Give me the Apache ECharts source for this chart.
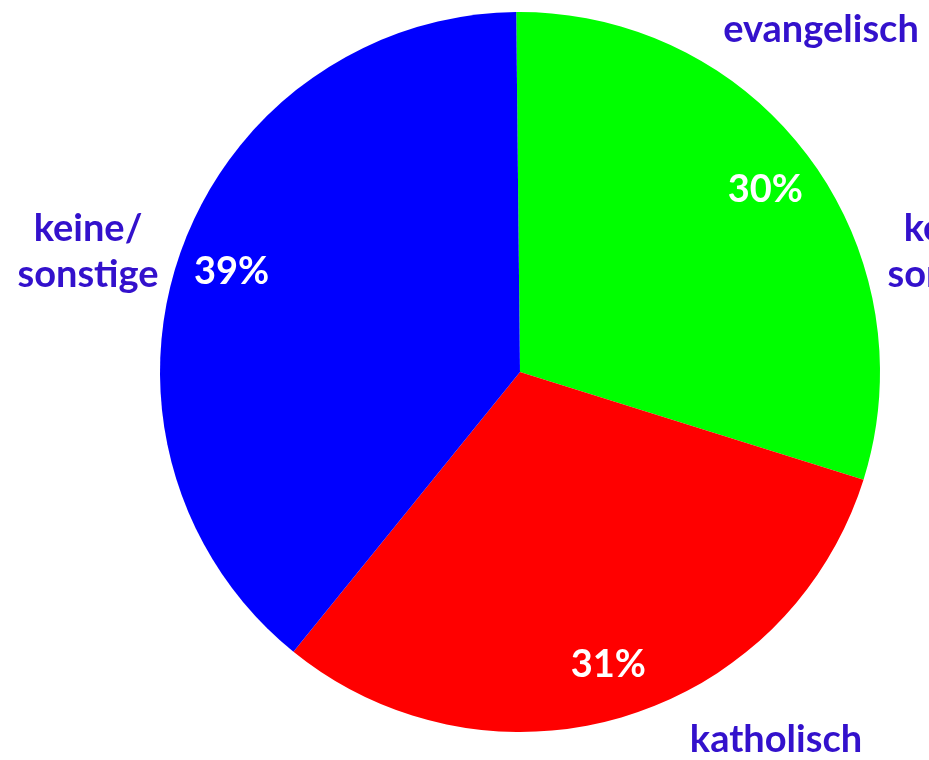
<!DOCTYPE html>
<html>
<head>
<meta charset="utf-8">
<script src="https://cdn.jsdelivr.net/npm/echarts@6/dist/echarts.min.js"></script>
<style>
  html, body { margin: 0; padding: 0; background: #fff; }
  #chart { width: 929px; height: 760px; }
</style>
</head>
<body>
<div id="chart"></div>
<script>
var categories = ['evangelisch', 'katholisch', 'keine/\nsons\u200Ctige'];
var values = [30, 31, 39];
var colors = ['#00ff00', '#ff0000', '#0000ff'];

// where the outer names sit (manual placement, like the original)
var namePos = [[821, 30], [776, 740], [88, 252]];

var dom = document.getElementById('chart');
var myChart = echarts.init(dom);

var data = categories.map(function (c, i) {
    return { name: c, value: values[i], itemStyle: { color: colors[i] } };
});

var font = 'Lato, "Open Sans", sans-serif';

option = {
    animation: false,
    graphic: [
        {
            type: 'text',
            x: 958,
            y: 252,
            z: 100,
            style: {
                text: 'keine/\nsons\u200Ctige',
                font: 'bold 38px ' + font,
                fill: '#3311cc',
                align: 'center',
                verticalAlign: 'middle',
                lineHeight: 46
            }
        }
    ],
    series: [
        {
            type: 'pie',
            center: [520, 372],
            radius: 360,
            startAngle: 90.6,
            clockwise: true,
            avoidLabelOverlap: false,
            silent: true,
            label: {
                show: true,
                position: 'outside',
                formatter: '{b}',
                color: '#3311cc',
                fontFamily: font,
                fontWeight: 'bold',
                fontSize: 38,
                lineHeight: 46,
                align: 'center'
            },
            labelLine: { show: false },
            labelLayout: function (params) {
                var p = namePos[params.dataIndex];
                return { x: p[0], y: p[1], align: 'center', verticalAlign: 'middle' };
            },
            data: data
        },
        {
            type: 'pie',
            center: [520, 372],
            radius: [245, 360],
            startAngle: 90.6,
            clockwise: true,
            avoidLabelOverlap: false,
            silent: true,
            itemStyle: { color: 'rgba(0,0,0,0)' },
            label: {
                show: true,
                position: 'inside',
                formatter: function (p) { return Math.round(p.percent) + '%'; },
                color: '#ffffff',
                fontFamily: font,
                fontWeight: 'bold',
                fontSize: 38
            },
            labelLine: { show: false },
            data: categories.map(function (c, i) { return { name: c, value: values[i] }; })
        }
    ]
};

myChart.setOption(option);
</script>
</body>
</html>
